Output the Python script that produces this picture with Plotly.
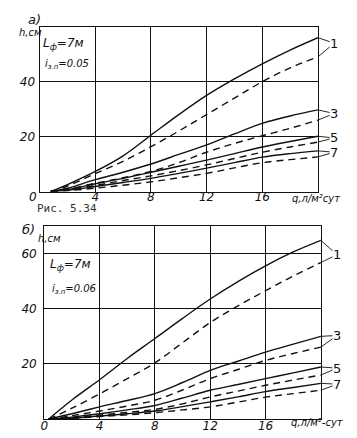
import plotly.graph_objects as go

W, H = 357, 438

# ---- data: panel a) (i = 0.05) ----
q_a = [0.8, 2, 4, 6, 8, 10, 12, 14, 16, 18, 20]
a1_solid = [0, 2.5, 7.3, 13, 20.5, 28, 35, 41, 46.5, 51.5, 56]
a1_dash = [0, 2, 6.5, 11, 16.3, 22, 28, 34, 40, 45, 49]
a3_solid = [0, 1.2, 4.3, 7, 10, 13.5, 17, 21, 24.8, 27.5, 29.7]
a3_dash = [0, 0.8, 3, 5, 7.3, 10.5, 14.3, 17.5, 20.3, 23, 26]
a5_solid = [0, 0.7, 2.8, 4.8, 7, 9.2, 11.4, 13.8, 16.2, 18.2, 20.1]
a5_dash = [0, 0.5, 2.2, 4, 5.7, 7.6, 9.7, 12, 14.3, 16.2, 18]
a7_solid = [0, 0.4, 1.8, 3.3, 4.8, 6.6, 8.5, 10.5, 12.5, 13.8, 14.8]
a7_dash = [0, 0.3, 1.2, 2.3, 3.5, 5, 6.6, 8.6, 10.5, 11.6, 12.6]

# ---- data: panel б) (i = 0.06) ----
q_b = [0.3, 2, 4, 6, 8, 10, 12, 14, 16, 18, 20]
b1_solid = [0, 7, 14.3, 22, 29.2, 36.5, 43.5, 49.8, 55.5, 60.5, 64.7]
b1_dash = [0, 4, 9.2, 14.7, 20.4, 27.7, 35, 41, 46.5, 51.8, 56.7]
b3_solid = [0, 2, 4.5, 6.8, 9.3, 13.3, 17.7, 21, 24.3, 27.2, 30]
b3_dash = [0, 1.3, 3, 4.8, 6.9, 10.6, 14.7, 18, 21.3, 23.8, 26.1]
b5_solid = [0, 0.8, 2, 3.4, 5, 7.7, 10.5, 12.6, 14.7, 16.8, 18.9]
b5_dash = [0, 0.6, 1.5, 2.5, 3.6, 5.6, 8.1, 10.2, 12.3, 14.2, 16]
b7_solid = [0, 0.4, 1.2, 2, 3, 4.6, 6.3, 8.1, 10, 11.5, 13]
b7_dash = [0, 0.3, 1, 1.6, 2.4, 3.4, 4.5, 6.2, 8, 9.3, 10.5]

curve_labels = ["1", "3", "5", "7"]
label_y_a = [54, 28.4, 19.5, 14.3]
label_y_b = [59.5, 30.3, 18.5, 12.7]
label_dx = 1.15  # label offset to the right of q = 20 (in q units)

x_ticks_a = [4, 8, 12, 16]
y_ticks_a = [20, 40]
x_ticks_b = [0, 4, 8, 12, 16]
y_ticks_b = [20, 40, 60]

FONT = "DejaVu Sans"
INK = "#111"

# panel pixel geometry (left, right, bottom, top) and y ranges
GEO_A = (36, 317.5, 191.5, 26.7)
GEO_B = (40.7, 320.5, 419.3, 225.7)
YMAX_A, YMAX_B = 60, 70


def px(x):
    return x / W


def py(y):
    return 1 - y / H


fig = go.Figure()

pairs_a = [(a1_solid, a1_dash), (a3_solid, a3_dash), (a5_solid, a5_dash), (a7_solid, a7_dash)]
pairs_b = [(b1_solid, b1_dash), (b3_solid, b3_dash), (b5_solid, b5_dash), (b7_solid, b7_dash)]

for (s, d) in pairs_a:
    fig.add_trace(go.Scatter(x=q_a, y=s, mode="lines", line=dict(color=INK, width=1.4, shape="spline"),
                             xaxis="x", yaxis="y", showlegend=False, hoverinfo="skip"))
    fig.add_trace(go.Scatter(x=q_a, y=d, mode="lines", line=dict(color=INK, width=1.4, shape="spline", dash="7px,5px"),
                             xaxis="x", yaxis="y", showlegend=False, hoverinfo="skip"))
for (s, d) in pairs_b:
    fig.add_trace(go.Scatter(x=q_b, y=s, mode="lines", line=dict(color=INK, width=1.4, shape="spline"),
                             xaxis="x2", yaxis="y2", showlegend=False, hoverinfo="skip"))
    fig.add_trace(go.Scatter(x=q_b, y=d, mode="lines", line=dict(color=INK, width=1.4, shape="spline", dash="7px,5px"),
                             xaxis="x2", yaxis="y2", showlegend=False, hoverinfo="skip"))

annotations = []
# curve numbers with leader lines to the solid and dashed curve ends
for i, lab in enumerate(curve_labels):
    for xr, yr, pair, ly, geo, ymax in (("x", "y", pairs_a[i], label_y_a[i], GEO_A, YMAX_A),
                                        ("x2", "y2", pairs_b[i], label_y_b[i], GEO_B, YMAX_B)):
        kx = (geo[1] - geo[0]) / 20.0
        ky = (geo[2] - geo[3]) / ymax
        for k, series in enumerate(pair):
            annotations.append(dict(
                x=20, y=series[-1], xref=xr, yref=yr,
                ax=label_dx * kx, ay=-(ly - series[-1]) * ky,
                text=lab, showarrow=True, arrowhead=0, arrowwidth=0.9, arrowcolor=INK,
                standoff=0, startstandoff=0, borderpad=0,
                font=dict(family=FONT, size=13, color=INK if k == 0 else "rgba(0,0,0,0)"),
            ))

it_font = dict(family=FONT, size=12, color=INK, style="italic")
small_it = dict(family=FONT, size=10, color=INK, style="italic")

texts = [
    ("а)", 31, 19, dict(family=FONT, size=13, color=INK, style="italic")),
    ("h,см", 27, 32, small_it),
    ("L<sub>ф</sub>=7м", 60, 44, it_font),
    ("i<sub>з.п</sub>=0.05", 64, 65, small_it),
    ("0", 29.5, 197, it_font),
    ("q,л/м²сут", 316, 198, small_it),
    ("Рис. 5.34", 64, 208, dict(family="DejaVu Sans Mono", size=11, color="#333")),
    ("б)", 25, 229, dict(family=FONT, size=13, color=INK, style="italic")),
    ("h,см", 46, 238, small_it),
    ("L<sub>ф</sub>=7м", 67, 265, it_font),
    ("i<sub>з.п</sub>=0.06", 71, 289, small_it),
    ("q,л/м²-сут", 317, 422, small_it),
]
for t, x, y, f in texts:
    annotations.append(dict(text=t, x=px(x), y=py(y), xref="paper", yref="paper",
                            showarrow=False, font=f, xanchor="center", yanchor="middle"))

axis_common = dict(showgrid=True, gridcolor=INK, gridwidth=1, showline=True, linecolor=INK,
                   linewidth=1.2, mirror=True, zeroline=False, ticks="", ticklen=0,
                   tickfont=dict(family=FONT, size=12, color=INK, style="italic"), fixedrange=True)

fig.update_layout(
    width=W, height=H,
    margin=dict(l=0, r=0, t=0, b=0),
    paper_bgcolor="white", plot_bgcolor="white",
    showlegend=False,
    hovermode=False,
    xaxis=dict(domain=[px(GEO_A[0]), px(GEO_A[1])], range=[0, 20], anchor="y", tickvals=x_ticks_a,
               ticklabelstandoff=-6, **axis_common),
    yaxis=dict(domain=[py(GEO_A[2]), py(GEO_A[3])], range=[0, YMAX_A], anchor="x", tickvals=y_ticks_a,
               ticklabelstandoff=1, **axis_common),
    xaxis2=dict(domain=[px(GEO_B[0]), px(GEO_B[1])], range=[0, 20], anchor="y2", tickvals=x_ticks_b,
                ticklabelstandoff=-5, **axis_common),
    yaxis2=dict(domain=[py(GEO_B[2]), py(GEO_B[3])], range=[0, YMAX_B], anchor="x2", tickvals=y_ticks_b,
                ticklabelstandoff=4, **axis_common),
    annotations=annotations,
)

fig.write_html("out.html", config={"displayModeBar": False},
               post_script="document.body.style.margin='0px';document.body.style.padding='0px';"
                           "document.body.style.overflow='hidden';")
